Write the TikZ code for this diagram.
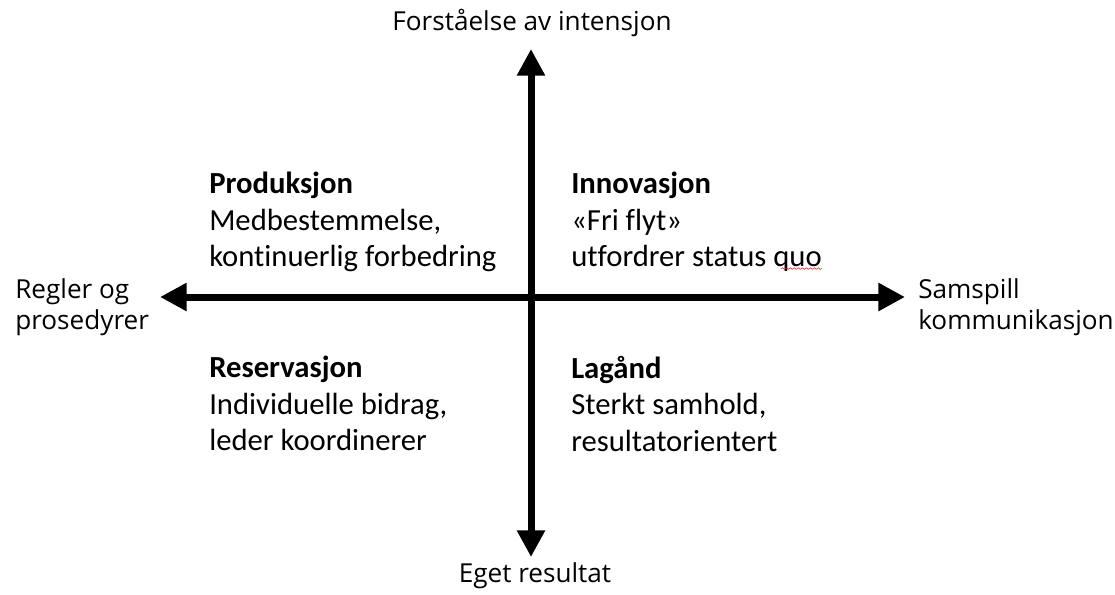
\documentclass[tikz,border=0pt]{standalone}
\usepackage{fontspec}
\setmainfont{Carlito}[Ligatures=NoCommon]
\newfontfamily\axisfont{Open Sans}[Ligatures=NoCommon]
\usetikzlibrary{arrows.meta,positioning,calc,decorations.pathmorphing}

\begin{document}
\begin{tikzpicture}[x=0.75pt,y=-0.75pt,
    axis/.style={line width=5.25pt,
      {Triangle[length=20pt,width=20pt]}-{Triangle[length=20pt,width=20pt]}},
    lbl/.style={inner sep=0pt,font=\axisfont\fontsize{19.6}{23.6}\selectfont},
    side/.style={lbl,anchor=north west,align=left},
    quad/.style={inner sep=0pt,anchor=north west,align=left,
      font=\fontsize{23}{27.2}\selectfont}]
  \useasboundingbox (0,0) rectangle (1115,594);
  % axes
  \coordinate (west) at (160,297);
  \coordinate (east) at (905,297);
  \coordinate (north) at (531,49);
  \coordinate (south) at (531,557);
  \draw[axis] (west) -- (east);
  \draw[axis] (south) -- (north);
  % axis labels
  \node[lbl,anchor=base] (top) at (532,30) {Forståelse av intensjon};
  \node[lbl,anchor=base] (bottom) at (535,582) {Eget resultat};
  \node[side] (left) at (15,278) {Regler og\\prosedyrer};
  \node[side] (right) at (918,278) {Samspill\\kommunikasjon};
  % quadrants
  \node[quad] (prod) at (209,172) {\textbf{Produksjon}\\Medbestemmelse,\\kontinuerlig forbedring};
  \node[quad] (inno) at (571,172) {\textbf{Innovasjon}\\«Fri flyt»\\utfordrer status quo};
  \node[quad] (res) at (209,356) {\textbf{Reservasjon}\\Individuelle bidrag,\\leder koordinerer};
  \node[quad] (lag) at (571,356) {\textbf{Lagånd}\\Sterkt samhold,\\resultatorientert};
  % spell-check mark
  \draw[red,line width=0.4pt,decorate,decoration={snake,amplitude=0.6pt,segment length=3pt}]
    ($(inno.south east)+(-41,-3)$) -- ($(inno.south east)+(0,-3)$);
\end{tikzpicture}
\end{document}
